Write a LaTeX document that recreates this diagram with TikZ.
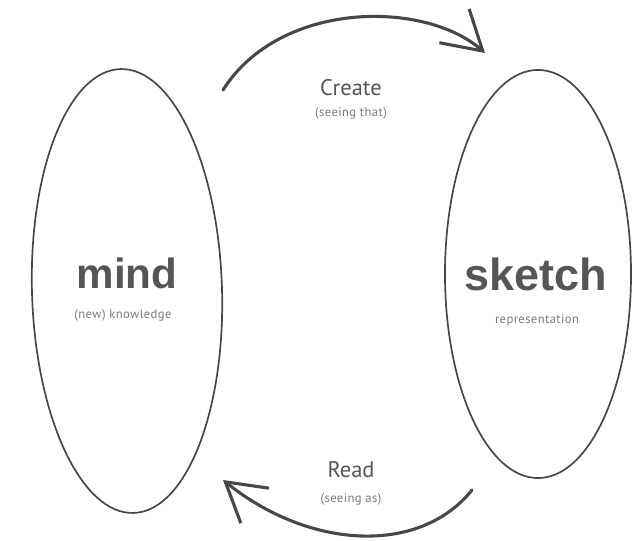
\documentclass[tikz,border=0pt]{standalone}
\usepackage{fontspec}
\setmainfont{PT Sans}
\newfontfamily\heavyface{Liberation Sans}
\usetikzlibrary{shapes.geometric,arrows.meta}
\definecolor{pencil}{HTML}{474747}
\definecolor{inkgray}{HTML}{555555}
\definecolor{softgray}{HTML}{7a7a7a}
\begin{document}
\begin{tikzpicture}[x=0.025cm,y=-0.025cm,
  blob/.style={draw=pencil,line width=1.2pt,ellipse,inner sep=0pt},
  flow/.style={draw=pencil,line width=2.2pt,line cap=round,
    -{Straight Barb[length=27pt,width=32pt,line width=2.2pt]}},
  bigword/.style={text=inkgray,anchor=base,font=\heavyface\bfseries\fontsize{30}{32}\selectfont},
  verb/.style={text=inkgray,anchor=base,font=\fontsize{16}{18}\selectfont},
  note/.style={text=softgray,anchor=base,font=\fontsize{9}{10}\selectfont\addfontfeature{LetterSpace=3}}]
\useasboundingbox (0,0) rectangle (632,540);
\node[blob,minimum width=4.75cm,minimum height=11.1cm,rotate=1.7] (mind) at (127,291) {};
\node[blob,minimum width=4.65cm,minimum height=10.2cm] (sketch) at (538,274) {};
\node[bigword] (mindword) at (127,288) {mind};
\node[note] (mindnote) at (123,318) {(new) knowledge};
\node[bigword,font=\heavyface\bfseries\fontsize{32}{34}\selectfont] (sketchword) at (536,290) {sketch};
\node[note] (sketchnote) at (537,323) {representation};
\node[verb] (create) at (351,95) {Create};
\node[note] (createnote) at (351,116) {(seeing that)};
\node[verb] (read) at (351,477) {Read};
\node[note] (readnote) at (351,502) {(seeing as)};
\coordinate (createA) at (223,90);
\coordinate (createB) at (485,53);
\coordinate (readA) at (472,490);
\coordinate (readB) at (223,480);
\draw[flow] (createA) .. controls (280,0) and (425,0) .. (createB);
\draw[flow] (readA) .. controls (420,555) and (310,550) .. (readB);
\end{tikzpicture}
\end{document}
